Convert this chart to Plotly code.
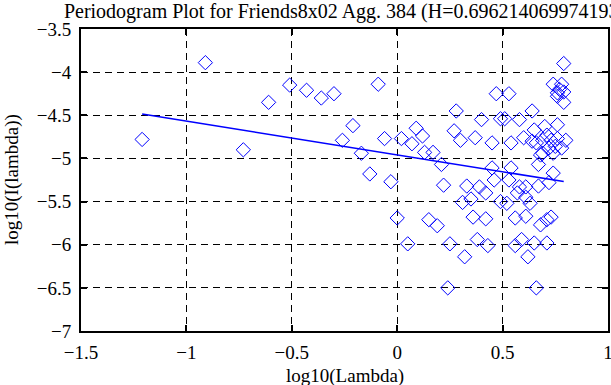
import plotly.graph_objects as go

# Periodogram points: log10(lambda), log10(I(lambda))
log_lambda = [
    -1.21, -0.91, -0.73, -0.61, -0.51, -0.43, -0.36, -0.30, -0.21, -0.26,
    -0.17, -0.13, -0.09, -0.06, -0.03, 0.00, 0.05, 0.02, 0.07, 0.09,
    0.12, 0.13, 0.17, 0.21, 0.22, 0.15, 0.19, 0.25, 0.24, 0.28,
    0.27, 0.30, 0.33, 0.31, 0.32, 0.35, 0.37, 0.40, 0.39, 0.42,
    0.36, 0.42, 0.38, 0.43, 0.47, 0.53, 0.49, 0.51, 0.58, 0.64,
    0.45, 0.54, 0.60, 0.64, 0.65, 0.45, 0.54, 0.46, 0.53, 0.49,
    0.52, 0.58, 0.61, 0.57, 0.61, 0.63, 0.67, 0.56, 0.61, 0.68,
    0.71, 0.73, 0.56, 0.59, 0.65, 0.71, 0.62, 0.66, 0.67, 0.74,
    0.72, 0.79, 0.74, 0.78, 0.77, 0.76, 0.79, 0.76, 0.79, 0.70,
    0.76, 0.71, 0.73, 0.69, 0.66, 0.76, 0.80, 0.78, 0.75, 0.72,
    0.69, 0.68, 0.74,
]
log_power = [
    -4.78, -3.89, -4.90, -4.35, -4.15, -4.21, -4.30, -4.25, -4.62, -4.79,
    -4.94, -5.18, -4.14, -4.77, -5.27, -5.69, -5.99, -4.77, -4.83, -4.65,
    -4.74, -4.93, -4.93, -5.07, -5.31, -5.71, -5.78, -5.99, -6.50, -4.45,
    -4.68, -4.79, -5.32, -5.51, -6.14, -5.47, -4.76, -4.55, -5.33, -5.40,
    -5.68, -5.70, -5.94, -6.01, -4.25, -4.25, -4.54, -4.54, -4.55, -4.45,
    -4.82, -4.82, -4.76, -4.80, -4.67, -5.11, -5.11, -5.25, -5.25, -5.50,
    -5.52, -5.33, -5.33, -5.40, -5.45, -5.52, -5.32, -5.69, -5.67, -5.77,
    -5.71, -5.68, -6.01, -5.94, -5.98, -5.98, -6.14, -6.50, -5.07, -5.17,
    -5.28, -3.90, -4.14, -4.14, -4.20, -4.24, -4.23, -4.28, -4.35, -4.63,
    -4.61, -4.73, -4.79, -4.79, -4.82, -4.77, -4.79, -4.88, -4.86, -4.88,
    -4.94, -4.96, -4.94,
]

# Fitted regression line (end points)
fit_x = [-1.21, 0.79]
fit_y = [-4.485, -5.268]

title_text = "Periodogram Plot for Friends8x02 Agg. 384 (H=0.696214069974193)"
x_title = "log10(Lambda)"
y_title = "log10(I(lambda))"
x_ticks = [-1.5, -1, -0.5, 0, 0.5, 1]
y_ticks = [-7, -6.5, -6, -5.5, -5, -4.5, -4, -3.5]

FONT = "Liberation Serif"
BLUE = "#0000ff"

fig = go.Figure()
fig.add_trace(go.Scatter(
    x=log_lambda, y=log_power, mode="markers",
    marker=dict(symbol="diamond-open", size=11, color=BLUE,
                line=dict(width=1, color=BLUE)),
    showlegend=False, hoverinfo="x+y",
))
fig.add_trace(go.Scatter(
    x=fit_x, y=fit_y, mode="lines",
    line=dict(color=BLUE, width=1.5),
    showlegend=False,
))

axis_common = dict(
    automargin=False,
    showline=True, linecolor="black", linewidth=2, mirror="ticks",
    ticks="inside", ticklen=6, tickwidth=2, tickcolor="black",
    showgrid=True, gridcolor="black", gridwidth=1, griddash="7px,5px",
    zeroline=False, ticklabeloverflow="allow",
    tickfont=dict(family=FONT, size=19, color="black"),
)

fig.update_xaxes(range=[-1.5, 1], tickvals=x_ticks, ticklabelstandoff=3, **axis_common)
fig.update_yaxes(range=[-7, -3.5], tickvals=y_ticks, ticklabelstandoff=4, **axis_common)

fig.add_annotation(text=x_title, xref="paper", yref="paper", x=0.5, y=0,
                   yshift=-45, xanchor="center", yanchor="middle", showarrow=False,
                   font=dict(family=FONT, size=19, color="black"))
fig.add_annotation(text=y_title, xref="paper", yref="paper", x=0, y=0.5,
                   xshift=-69, xanchor="center", yanchor="middle", showarrow=False,
                   textangle=-90,
                   font=dict(family=FONT, size=19, color="black"))

fig.update_layout(
    width=611, height=385,
    margin=dict(l=81, r=3, t=29, b=54),
    paper_bgcolor="white", plot_bgcolor="white",
    font=dict(family=FONT, size=19, color="black"),
    title=dict(text=title_text, x=0.5, xanchor="center", xref="paper",
               y=1 - 11 / 385, yanchor="middle", yref="container",
               font=dict(family=FONT, size=20, color="black")),
)

fig.write_html("out.html",
               config={"displayModeBar": False},
               post_script="document.body.style.margin='0';document.body.style.overflow='hidden';")
